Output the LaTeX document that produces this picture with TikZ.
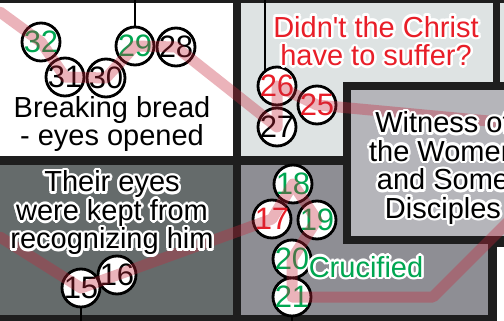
\documentclass[tikz,border=0pt]{standalone}
\usepackage{fontspec}
\setmainfont{Liberation Sans}
\usetikzlibrary{calc}
\definecolor{framedark}{RGB}{30,30,30}
\definecolor{panellight}{RGB}{222,227,227}
\definecolor{paneldark}{RGB}{101,107,107}
\definecolor{panelmid}{RGB}{142,142,148}
\definecolor{witnessgray}{RGB}{181,181,186}
\definecolor{stepred}{RGB}{232,30,40}
\definecolor{stepgreen}{RGB}{0,166,81}
\definecolor{trailred}{RGB}{200,40,60}
\newcommand{\stepnode}[4]{%
  \node[stepcircle,text=#4] (n#1) at (#2,#3) {#1};%
}
\newcommand{\halotext}[5]{%
  \foreach \hA in {0,30,...,330}{%
    \node[panellabel,text=white] at ($(#2,#3)+(\hA:2.6)$) {#5};}%
  \node[panellabel,text=#4] (#1) at (#2,#3) {#5};%
}

\begin{document}
\begin{tikzpicture}[x=1pt,y=-1pt,
  stepcircle/.style={circle,draw=black,line width=2.8pt,fill=white,minimum size=38pt,inner sep=-4pt,font=\fontsize{31}{31}\selectfont},
  panellabel/.style={align=center,inner sep=0pt,font=\fontsize{29}{28.5}\selectfont},
  trail/.style={draw=trailred,line width=11pt,opacity=0.35,line join=round,line cap=round},
  wire/.style={draw=black,line width=2pt}]
  \useasboundingbox (0,0) rectangle (504,321);
  \clip (0,0) rectangle (504,321);
  \fill[framedark] (0,0) rectangle (504,321);
  \fill[white] (0,3) rectangle (233,156);
  \fill[panellight] (241,3) rectangle (493,156);
  \fill[panellight] (500,3) rectangle (504,82);
  \fill[paneldark] (0,165) rectangle (233,315);
  \fill[panelmid] (241,165) rectangle (488,315);
  \fill[white] (497,247) rectangle (504,321);
  \filldraw[fill=witnessgray,draw=framedark,line width=8pt] (347,86) rectangle (530,240);
  \coordinate (edgeT) at (0,0);
  \coordinate (edgeB) at (0,321);
  \stepnode{32}{41}{42}{stepgreen}
  \stepnode{31}{65}{77}{black}
  \stepnode{30}{106}{78}{black}
  \stepnode{29}{135}{46}{stepgreen}
  \stepnode{28}{176}{47}{black}
  \stepnode{27}{277}{127}{black}
  \stepnode{26}{277}{86}{stepred}
  \stepnode{25}{317}{105}{stepred}
  \stepnode{15}{81}{288}{black}
  \stepnode{16}{117}{275}{black}
  \stepnode{18}{293}{184}{stepgreen}
  \stepnode{17}{272}{219}{stepred}
  \stepnode{19}{317}{220}{stepgreen}
  \stepnode{20}{292}{259}{stepgreen}
  \stepnode{21}{292}{297}{stepgreen}
  \draw[wire] (n29.north) -- (n29.north |- edgeT);
  \draw[wire] (n26.127) -- (n26.127 |- edgeT);
  \draw[wire] (n15.south) -- (n15.south |- edgeB);
  \draw[wire] (n21.south) -- (n21.south |- edgeB);
  \coordinate (trailTL) at (0,12);
  \coordinate (trailTR) at (510,123);
  \coordinate (trailBL) at (0,237);
  \coordinate (trailBend) at (433,297);
  \coordinate (trailBR) at (510,220);
  \draw[trail] (trailTL) -- (n32.center) -- (n31.center) -- (n30.center) -- (n29.center) -- (n28.center)
    -- (n27.center) -- (n26.center) -- (n25.center) -- (trailTR);
  \draw[trail] (trailBL) -- (n15.center) -- (n16.center) -- (n17.center) -- (n18.center) -- (n19.center)
    -- (n20.center) -- (n21.center) -- (trailBend) -- (trailBR);
  \node[panellabel] (breadtxt) at (112,124) {Breaking bread\\- eyes opened};
  \halotext{suffertxt}{376}{41}{stepred}{Didn\textquotesingle t the Christ\\have to suffer?}
  \halotext{eyestxt}{112}{213}{black}{Their eyes\\were kept from\\recognizing him}
  \halotext{witnesstxt}{443}{168}{black}{Witness of\\the Women\\and Some\\Disciples}
  \halotext{crosstxt}{366}{267}{stepgreen}{Crucified}
\end{tikzpicture}
\end{document}
